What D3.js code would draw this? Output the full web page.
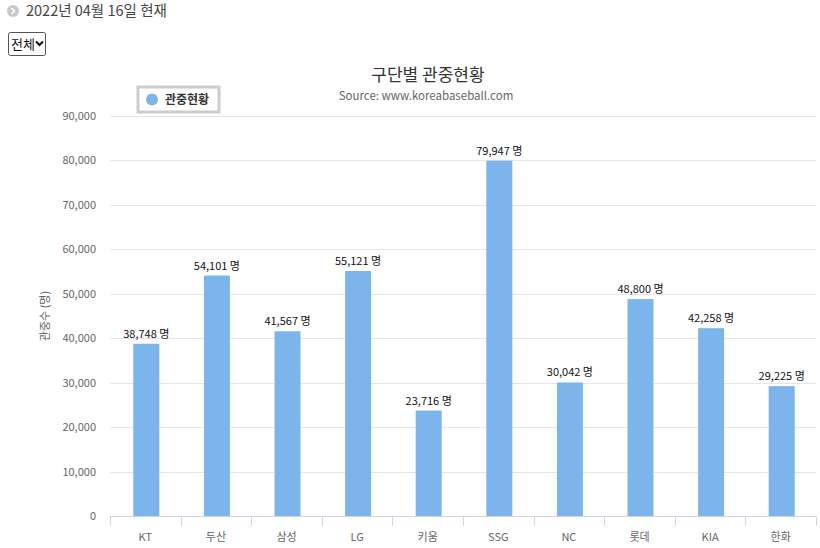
<!DOCTYPE html>
<html>
<head>
<meta charset="utf-8">
<script src="https://cdn.jsdelivr.net/npm/d3@7"></script>
<style>
  body { margin: 0; background: #fff; font-family: "Noto Sans CJK KR", "Noto Sans", sans-serif; }
  svg text { font-family: "Noto Sans CJK KR", "Noto Sans", sans-serif; }
</style>
</head>
<body>
<svg width="820" height="548" id="vis"></svg>
<script>
    var teams = ["KT", "두산", "삼성", "LG", "키움", "SSG", "NC", "롯데", "KIA", "한화"]
    var attendance = [38748, 54101, 41567, 55121, 23716, 79947, 30042, 48800, 42258, 29225]
    var yTicks = [0, 10000, 20000, 30000, 40000, 50000, 60000, 70000, 80000, 90000]

    var svg = d3.select("#vis")
    var plotLeft = 110, plotRight = 816, plotTop = 116, plotBottom = 516
    var fmt = d3.format(",")

    // header text
    svg.append("circle").attr("cx", 13).attr("cy", 11).attr("r", 6).style("fill", "#c8c8c8")
    svg.append("path").attr("d", "M11.5,8 L14.5,11 L11.5,14").style("fill", "none")
        .style("stroke", "#fff").style("stroke-width", 1.6)
    svg.append("text").attr("x", 26).attr("y", 16).text("2022년 04월 16일 현재")
        .style("font-size", "14.5px").style("fill", "#444")

    // select box
    svg.append("rect").attr("x", 8.5).attr("y", 32.5).attr("width", 37).attr("height", 23).attr("rx", 2)
        .style("fill", "#fff").style("stroke", "#555")
    svg.append("text").attr("x", 11).attr("y", 49).text("전체").style("font-size", "13px").style("fill", "#111")
    svg.append("path").attr("d", "M36,41.5 L39.5,45 L43,41.5").style("fill", "none")
        .style("stroke", "#111").style("stroke-width", 2)

    var x = d3.scaleBand().domain(teams).range([plotLeft, plotRight])
    var y = d3.scaleLinear().domain([0, 90000]).range([plotBottom, plotTop])

    // grid
    svg.append("g").selectAll("line").data(yTicks.slice(1)).join("line")
        .attr("x1", plotLeft).attr("x2", plotRight)
        .attr("y1", d => Math.round(y(d)) + 0.5).attr("y2", d => Math.round(y(d)) + 0.5)
        .style("stroke", "#e6e6e6")

    // y axis labels
    svg.append("g").selectAll("text").data(yTicks).join("text")
        .attr("x", 96).attr("y", d => y(d) + 4)
        .attr("text-anchor", "end")
        .text(d => fmt(d))
        .style("font-size", "11px").style("fill", "#666")

    svg.append("text")
        .attr("transform", "translate(49," + ((plotTop + plotBottom) / 2) + ") rotate(-90)")
        .attr("text-anchor", "middle")
        .text("관중수 (명)")
        .style("font-size", "11px").style("fill", "#666")

    // x axis
    var xAxis = d3.axisBottom(x).tickSize(0).tickPadding(17)
    var gx = svg.append("g").attr("transform", "translate(0," + (plotBottom + 0.5) + ")").call(xAxis)
    gx.select(".domain").remove()
    gx.selectAll("text").style("font-size", "11px").style("fill", "#666")
    gx.append("line").attr("x1", plotLeft).attr("x2", plotRight).style("stroke", "#ccd6eb")
    gx.selectAll("line.tk").data(teams.concat(["end"])).join("line").attr("class", "tk")
        .attr("x1", (d, i) => Math.round(plotLeft + i * x.step()) + 0.5)
        .attr("x2", (d, i) => Math.round(plotLeft + i * x.step()) + 0.5)
        .attr("y1", 0).attr("y2", 9)
        .style("stroke", "#ccd6eb")

    // bars
    var bw = 26
    svg.append("g").selectAll("rect").data(attendance).join("rect")
        .attr("x", (d, i) => x(teams[i]) + x.bandwidth() / 2 - bw / 2 + 1)
        .attr("y", d => y(d))
        .attr("width", bw)
        .attr("height", d => plotBottom - y(d))
        .style("fill", "#7cb5ec")

    // data labels
    svg.append("g").selectAll("text").data(attendance).join("text")
        .attr("x", (d, i) => x(teams[i]) + x.bandwidth() / 2 + 1)
        .attr("y", d => y(d) - 6)
        .attr("text-anchor", "middle")
        .text(d => fmt(d) + " 명")
        .style("font-size", "11px").style("fill", "#111")

    // title
    svg.append("text").attr("x", 428).attr("y", 81).attr("text-anchor", "middle")
        .text("구단별 관중현황").style("font-size", "17px").style("fill", "#333")
    svg.append("text").attr("x", 426).attr("y", 100).attr("text-anchor", "middle")
        .text("Source: www.koreabaseball.com").style("font-size", "11.5px").style("fill", "#666")

    // legend
    svg.append("rect").attr("x", 138).attr("y", 87).attr("width", 81).attr("height", 25)
        .style("fill", "#fff").style("stroke", "#ccc").style("stroke-width", 3)
    svg.append("circle").attr("cx", 152).attr("cy", 99.5).attr("r", 6).style("fill", "#7cb5ec")
    svg.append("text").attr("x", 165).attr("y", 104).text("관중현황")
        .style("font-size", "12px").style("font-weight", "bold").style("fill", "#333")
</script>
</body>
</html>
